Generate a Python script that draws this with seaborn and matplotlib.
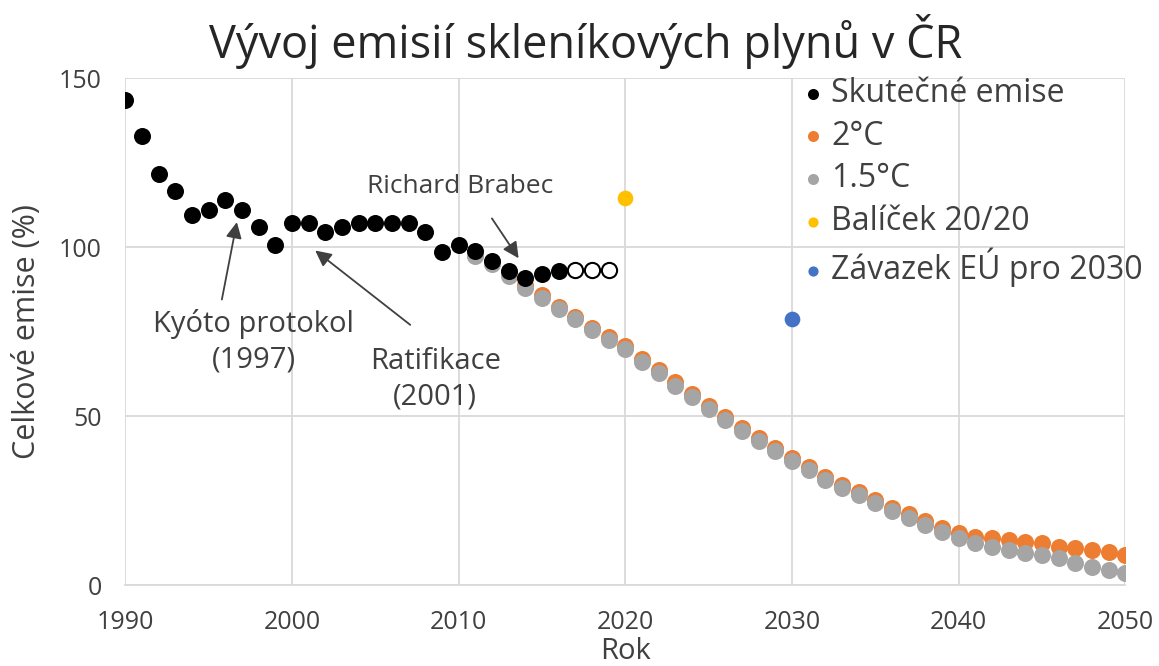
import numpy as np
import pandas as pd
import matplotlib
matplotlib.use('Agg')
import matplotlib.pyplot as plt
import seaborn as sns

# -------------------- DATA --------------------
years_actual = list(range(1990, 2017))
actual = [143.5, 133, 121.5, 116.5, 109.5, 111, 114, 111, 106, 100.5,
          107, 107, 104.5, 106, 107, 107, 107, 107, 104.5, 98.5,
          100.5, 99, 96, 93, 91, 92, 93]

years_est = [2017, 2018, 2019]
estimated = [93.2, 93.2, 93.2]

years_path = list(range(2011, 2051))
path_15 = [97.3, 95, 91.5, 88, 85, 81.7, 78.7, 75.4, 72.5, 69.8,
           66, 62.7, 59, 55.6, 52, 48.8, 45.6, 42.6, 39.6, 36.7,
           34, 31, 28.7, 26.6, 24.3, 21.8, 19.8, 17.8, 15.8, 13.9,
           12.4, 11.2, 10.4, 9.4, 8.8, 8, 6.5, 5.3, 4.4, 3.5]
path_2 = [97.8, 95.6, 92.2, 88.7, 85.7, 82.4, 79.4, 76.2, 73.3, 70.6,
          66.9, 63.6, 60, 56.6, 53, 49.8, 46.6, 43.6, 40.6, 37.7,
          35, 32, 29.7, 27.6, 25.3, 22.9, 20.9, 18.9, 17, 15.4,
          14.2, 13.9, 13.3, 12.7, 12.4, 11.2, 10.9, 10.4, 9.8, 8.9]

target_2020 = (2020, 114.5)
target_2030 = (2030, 78.7)

TEXT = '#404040'

# -------------------- PLOT --------------------
sns.set_style('white')
plt.rcParams['font.family'] = ['Open Sans', 'DejaVu Sans']

fig = plt.figure(figsize=(11.59, 6.66), dpi=100)
ax = fig.add_axes([0.108, 0.1216, 0.863, 0.761])

S = 150
sns.scatterplot(x=years_path, y=path_2, color='#ED7D31', s=S, linewidth=0,
                label='2°C', ax=ax, zorder=3)
sns.scatterplot(x=years_path, y=path_15, color='#A5A5A5', s=S, linewidth=0,
                label='1.5°C', ax=ax, zorder=4)
sns.scatterplot(x=years_actual, y=actual, color='black', s=S, linewidth=0,
                label='Skutečné emise', ax=ax, zorder=5)
sns.scatterplot(x=years_est, y=estimated, facecolor='white', edgecolor='black',
                s=S * 0.8, linewidth=1.5, ax=ax, zorder=5, legend=False)
sns.scatterplot(x=[target_2020[0]], y=[target_2020[1]], color='#FFC000', s=S * 0.85,
                linewidth=0, label='Balíček 20/20', ax=ax, zorder=5)
sns.scatterplot(x=[target_2030[0]], y=[target_2030[1]], color='#4472C4', s=S * 0.85,
                linewidth=0, label='Závazek EÚ pro 2030', ax=ax, zorder=5)

ax.set_xlim(1990, 2050)
ax.set_ylim(0, 150)
ax.set_xticks(range(1990, 2051, 10))
ax.set_yticks([0, 50, 100, 150])
ax.grid(True, color='#D9D9D9', linewidth=1.3)
ax.set_axisbelow(True)
for side in ['top', 'right', 'left']:
    ax.spines[side].set_visible(False)
ax.spines['bottom'].set_color('#D9D9D9')
ax.spines['bottom'].set_linewidth(1.3)
ax.tick_params(axis='both', length=0, labelsize=18, colors=TEXT)
ax.tick_params(axis='x', pad=18)
ax.tick_params(axis='y', pad=17)

ax.set_xlabel('Rok', fontsize=21, color=TEXT)
ax.xaxis.set_label_coords(0.5, -0.132)
ax.xaxis.label.set_va('center')
ax.set_ylabel('Celkové emise (%)', fontsize=22, color=TEXT)
ax.yaxis.set_label_coords(-0.083, 0.5)
fig.text(0.505, 0.937, 'Vývoj emisií skleníkových plynů v ČR', fontsize=32.5,
         color='#262626', ha='center', va='center')

# annotations
arrow = dict(arrowstyle='-|>', color=TEXT, lw=1.3, mutation_scale=24,
             shrinkA=0, shrinkB=0)
ax.text(2010.1, 118, 'Richard Brabec', fontsize=19, color=TEXT,
        ha='center', va='center')
ax.annotate('', xy=(2013.6, 96.7), xytext=(2012.0, 108.5), arrowprops=arrow)
ax.text(1997.7, 72, 'Kyóto protokol\n(1997)', fontsize=21, color=TEXT,
        ha='center', va='center', linespacing=1.3)
ax.annotate('', xy=(1996.7, 107.4), xytext=(1995.8, 84.5), arrowprops=arrow)
ax.text(2008.6, 61, 'Ratifikace\n(2001)', fontsize=21, color=TEXT,
        ha='center', va='center', linespacing=1.3)
ax.annotate('', xy=(2001.4, 99), xytext=(2007.1, 77), arrowprops=arrow)

handles, labels = ax.get_legend_handles_labels()
order = ['Skutečné emise', '2°C', '1.5°C', 'Balíček 20/20', 'Závazek EÚ pro 2030']
hmap = dict(zip(labels, handles))
ax.legend([hmap[l] for l in order], order, loc='upper left',
          bbox_to_anchor=(0.688, 0.884), bbox_transform=fig.transFigure,
          frameon=False, fontsize=23, markerscale=0.65, handletextpad=0.05,
          labelspacing=0.3, borderaxespad=0, borderpad=0, labelcolor=TEXT,
          handlelength=1.0)

fig.savefig('out.png', dpi=100)
